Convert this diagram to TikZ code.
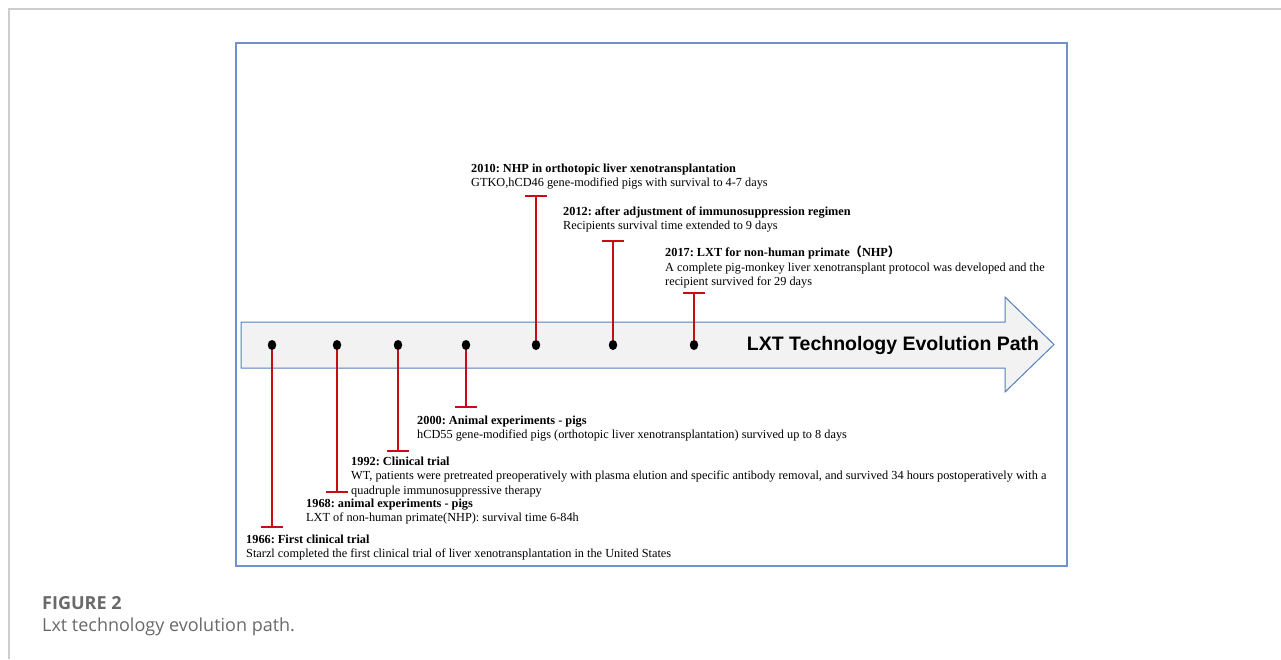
\documentclass[tikz,border=0pt]{standalone}
\usepackage{fontspec}
\setmainfont{Liberation Serif}
\newfontfamily\arrowfont{Liberation Sans}
\newfontfamily\capfont{Open Sans}
\newfontfamily\cjk{Noto Sans CJK SC}
\usetikzlibrary{arrows.meta,shapes.geometric}
\tikzset{>=latex}
\frenchspacing
\definecolor{mypagegray}{RGB}{205,205,205}
\definecolor{myframeblue}{RGB}{112,146,200}
\definecolor{myarrowblue}{RGB}{84,128,190}
\definecolor{myarrowfill}{RGB}{242,242,242}
\definecolor{mytred}{RGB}{200,12,22}
\definecolor{mycapgray}{RGB}{105,105,105}
\tikzset{
  dot/.style={ellipse,fill=black,inner sep=0pt,minimum width=8.5pt,minimum height=10pt},
  tline/.style={draw=mytred,line width=2pt,-{Bar[width=22pt]}},
  event/.style={anchor=north west,inner sep=0pt,align=left,yshift=10.15pt,
    font=\fontsize{12.3}{14.5}\selectfont},
}
\newcommand{\evtitle}[1]{\textbf{\strut#1}}

\begin{document}
\begin{tikzpicture}[x=1pt,y=-1pt]
  \useasboundingbox (0,0) rectangle (1281,659);

  % page edge and frame
  \draw[mypagegray,line width=1.5pt]
    (9,659) -- (9,9) -- (1281,9);
  \draw[myframeblue,line width=1.4pt]
    (236,43) rectangle (1067,566);

  % big arrow
  \filldraw[fill=myarrowfill,draw=myarrowblue,line width=1pt]
    (241,322) -- (1005,322) -- (1005,297) -- (1054,344.5)
    -- (1005,392) -- (1005,368) -- (241,368) -- cycle;
  \node[font=\arrowfont\bfseries\fontsize{19.5}{22}\selectfont] (pathlabel)
    at (893,345) {LXT Technology Evolution Path};

  % dots and red markers
  \foreach \yr/\x/\ye in {1966/272/528,1968/337/493,1992/398/452,2000/466/408,
                          2010/536/195,2012/613/240,2017/694/292}{
    \node[dot] (d\yr) at (\x,345) {};
    \coordinate (t\yr) at (\x,\ye);
    \draw[tline] (d\yr) -- (t\yr);
  }

  % labels (at first baseline)
  \node[event] (e2010) at (471,172)
    {\evtitle{2010: NHP in orthotopic liver xenotransplantation}\\
     GTKO,hCD46 gene-modified pigs with survival to 4-7 days};
  \node[event] (e2012) at (563,215)
    {\evtitle{2012: after adjustment of immunosuppression regimen}\\
     Recipients survival time extended to 9 days};
  \node[event] (e2017) at (665,256)
    {\evtitle{2017: LXT for non-human primate{\cjk （}NHP{\cjk ）}}\\
     A complete pig-monkey liver xenotransplant protocol was developed and the\\
     recipient survived for 29 days};
  \node[event] (e2000) at (417,424)
    {\evtitle{2000: Animal experiments - pigs}\\
     hCD55 gene-modified pigs (orthotopic liver xenotransplantation) survived up to 8 days};
  \node[event] (e1992) at (351,465)
    {\evtitle{1992: Clinical trial}\\
     WT, patients were pretreated preoperatively with plasma elution and specific antibody removal, and survived 34 hours postoperatively with a\\
     quadruple immunosuppressive therapy};
  \node[event] (e1968) at (306,507)
    {\evtitle{1968: animal experiments - pigs}\\
     LXT of non-human primate(NHP): survival time 6-84h};
  \node[event] (e1966) at (246,543)
    {\evtitle{1966: First clinical trial}\\
     Starzl completed the first clinical trial of liver xenotransplantation in the United States};

  % caption
  \node[anchor=west,inner sep=0pt,text=mycapgray,
        font=\capfont\bfseries\fontsize{18}{21}\selectfont] (figno)
    at (42,603) {FIGURE 2};
  \node[anchor=west,inner sep=0pt,text=mycapgray,
        font=\capfont\fontsize{18}{21}\selectfont] (figcap)
    at (42,627) {Lxt technology evolution path.};
\end{tikzpicture}
\end{document}
